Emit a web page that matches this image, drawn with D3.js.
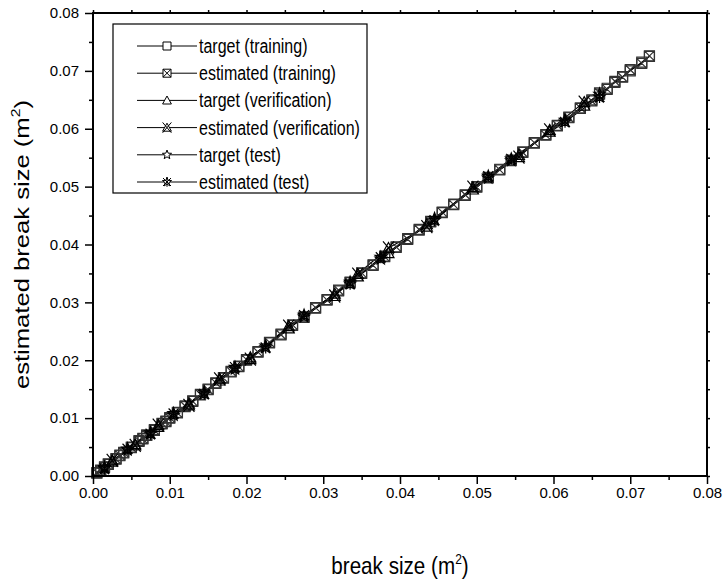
<!DOCTYPE html>
<html lang="en">
<head>
<meta charset="utf-8">
<script src="https://d3js.org/d3.v7.min.js"></script>
<style>
  body { margin: 0; background: #fff; }
  text { font-family: "Liberation Sans", Arial, sans-serif; fill: #000; }
</style>
</head>
<body>
<script>
// break sizes (m^2)
var trainTarget = [0.0005,0.001,0.0015,0.002,0.003,0.0035,0.004,0.005,0.006,0.0065,0.007,0.008,0.009,0.0095,0.010,0.011,0.012,0.013,0.014,0.015,0.016,0.017,0.018,0.019,0.020,0.0215,0.023,0.0245,0.026,0.0275,0.029,0.0305,0.032,0.0335,0.035,0.0365,0.038,0.0395,0.041,0.0425,0.044,0.0455,0.047,0.0485,0.050,0.0515,0.053,0.0545,0.056,0.0575,0.059,0.0605,0.062,0.0635,0.065,0.066,0.067,0.068,0.069,0.070,0.0715,0.0725];
var trainEstimated = [0.0006,0.0009,0.0016,0.0021,0.0029,0.0036,0.0041,0.0049,0.0061,0.0064,0.0071,0.0079,0.0091,0.0094,0.0101,0.0109,0.0121,0.0129,0.0141,0.0149,0.0161,0.0169,0.0181,0.0189,0.0201,0.0214,0.0231,0.0244,0.0261,0.0274,0.0291,0.0304,0.0321,0.0334,0.0351,0.0364,0.0379,0.0396,0.0409,0.0426,0.0439,0.0456,0.0469,0.0486,0.0499,0.0516,0.0529,0.0546,0.0559,0.0576,0.0589,0.0606,0.0619,0.0636,0.0648,0.0662,0.0668,0.0682,0.0689,0.0702,0.0713,0.0726];
var verTarget = [0.0025,0.0055,0.0085,0.0125,0.0165,0.0205,0.0255,0.0315,0.0345,0.0385,0.0435,0.0495,0.0555,0.0595,0.064];
var verEstimated = [0.0027,0.0053,0.0088,0.0122,0.0168,0.0202,0.0259,0.0311,0.0349,0.0394,0.0431,0.0499,0.0551,0.0598,0.0646];
var testTarget = [0.0015,0.0045,0.0075,0.0105,0.0145,0.0185,0.0225,0.0275,0.0335,0.0375,0.0445,0.0515,0.0545,0.0615,0.066];
var testEstimated = [0.0013,0.0047,0.0073,0.0108,0.0142,0.0188,0.0222,0.0278,0.0332,0.0378,0.0442,0.0518,0.0548,0.0612,0.0655];

var majorTicks = [0, 0.01, 0.02, 0.03, 0.04, 0.05, 0.06, 0.07, 0.08];
var minorTicks = [0.005, 0.015, 0.025, 0.035, 0.045, 0.055, 0.065, 0.075];

var seriesNames = ["target (training)", "estimated (training)", "target (verification)",
                   "estimated (verification)", "target (test)", "estimated (test)"];
var seriesSymbols = ["square", "squareX", "triangle", "triangleX", "star", "starX"];

var series = [
  {x: trainTarget, y: trainTarget},
  {x: trainTarget, y: trainEstimated},
  {x: verTarget, y: verTarget},
  {x: verTarget, y: verEstimated},
  {x: testTarget, y: testTarget},
  {x: testTarget, y: testEstimated}
];

var W = 725, H = 585;
var margin = {top: 13, right: 18, bottom: 109, left: 93};
var width = W - margin.left - margin.right,
    height = H - margin.top - margin.bottom;

var svg = d3.select("body").append("svg")
  .attr("width", W)
  .attr("height", H);

var x = d3.scaleLinear().domain([0, 0.08]).range([0, width]);
var y = d3.scaleLinear().domain([0, 0.08]).range([height, 0]);

var g = svg.append("g")
  .attr("transform", "translate(" + margin.left + "," + margin.top + ")");

function symbolPath(type, s) {
  // s = half size
  var p = d3.path();
  if (type === "square" || type === "squareX") {
    p.rect(-s, -s, 2 * s, 2 * s);
    if (type === "squareX") {
      p.moveTo(-s, -s); p.lineTo(s, s);
      p.moveTo(s, -s); p.lineTo(-s, s);
    }
  } else if (type === "triangle" || type === "triangleX") {
    p.moveTo(0, -s * 1.1); p.lineTo(s * 1.1, s * 0.9); p.lineTo(-s * 1.1, s * 0.9); p.closePath();
    if (type === "triangleX") {
      p.moveTo(-s * 1.1, -s * 1.3); p.lineTo(s * 1.1, s * 1.3);
      p.moveTo(s * 1.1, -s * 1.3); p.lineTo(-s * 1.1, s * 1.3);
    }
  } else {
    var R = s * 1.2, r = R * 0.42;
    for (var i = 0; i < 10; i++) {
      var a = -Math.PI / 2 + i * Math.PI / 5;
      var rr = i % 2 === 0 ? R : r;
      if (i === 0) p.moveTo(rr * Math.cos(a), rr * Math.sin(a));
      else p.lineTo(rr * Math.cos(a), rr * Math.sin(a));
    }
    p.closePath();
    if (type === "starX") {
      p.moveTo(-s, -s); p.lineTo(s, s);
      p.moveTo(s, -s); p.lineTo(-s, s);
      p.moveTo(0, -R); p.lineTo(0, R);
    }
  }
  return p.toString();
}

// lines
var line = d3.line()
  .x(function(d) { return x(d[0]); })
  .y(function(d) { return y(d[1]); });

series.forEach(function(sr, k) {
  var pts = sr.x.map(function(v, i) { return [v, sr.y[i]]; });
  g.append("path")
    .attr("d", line(pts))
    .attr("fill", "none")
    .attr("stroke", "#000")
    .attr("stroke-width", 1.2);
});

// markers
series.forEach(function(sr, k) {
  var pts = sr.x.map(function(v, i) { return [v, sr.y[i]]; });
  g.selectAll(".m" + k)
    .data(pts)
    .enter().append("path")
      .attr("class", "m" + k)
      .attr("transform", function(d) { return "translate(" + x(d[0]) + "," + y(d[1]) + ")"; })
      .attr("d", symbolPath(seriesSymbols[k], 5))
      .attr("fill", "none")
      .attr("stroke", k < 2 ? "#333" : "#000")
      .attr("stroke-width", 1.2);
});

// axes
function styleAxis(sel) {
  sel.select(".domain").remove();
  sel.selectAll(".tick line").attr("stroke", "#000").attr("stroke-width", 1.5);
  sel.selectAll(".tick text").style("font-size", "15px");
}

var fmt = d3.format(".2f");

g.append("g").attr("transform", "translate(0," + height + ")")
  .call(d3.axisBottom(x).tickValues(majorTicks).tickFormat(fmt).tickSize(8).tickPadding(3))
  .call(styleAxis);
g.append("g").attr("transform", "translate(0," + height + ")")
  .call(d3.axisBottom(x).tickValues(minorTicks).tickFormat("").tickSize(4))
  .call(styleAxis);
g.append("g")
  .call(d3.axisLeft(y).tickValues(majorTicks).tickFormat(fmt).tickSize(8).tickPadding(6))
  .call(styleAxis);
g.append("g")
  .call(d3.axisLeft(y).tickValues(minorTicks).tickFormat("").tickSize(4))
  .call(styleAxis);
g.append("g")
  .call(d3.axisTop(x).tickValues(majorTicks.concat(minorTicks)).tickFormat("").tickSize(3))
  .call(styleAxis);
g.append("g").attr("transform", "translate(" + width + ",0)")
  .call(d3.axisRight(y).tickValues(majorTicks.concat(minorTicks)).tickFormat("").tickSize(3))
  .call(styleAxis);

g.append("rect")
  .attr("width", width)
  .attr("height", height)
  .attr("fill", "none")
  .attr("stroke", "#000")
  .attr("stroke-width", 2);

// axis titles (text in the picture is stretched vertically)
var xt = svg.append("g")
  .attr("transform", "translate(" + (margin.left + width / 2) + ",574) scale(0.86,1)")
  .append("text")
  .attr("text-anchor", "middle")
  .style("font-size", "24px");
xt.append("tspan").text("break size (m");
xt.append("tspan").attr("dy", -10).style("font-size", "14px").text("2");
xt.append("tspan").attr("dy", 10).text(")");

var yt = svg.append("g")
  .attr("transform", "translate(29," + (margin.top + height / 2) + ") rotate(-90) scale(1.22,1)")
  .append("text")
  .attr("text-anchor", "middle")
  .style("font-size", "21px");
yt.append("tspan").text("estimated break size (m");
yt.append("tspan").attr("dy", -9).style("font-size", "13px").text("2");
yt.append("tspan").attr("dy", 9).text(")");

// legend
var leg = svg.append("g").attr("transform", "translate(113,24)");
leg.append("rect")
  .attr("width", 254)
  .attr("height", 169)
  .attr("fill", "#fff")
  .attr("stroke", "#000")
  .attr("stroke-width", 1.2);

seriesNames.forEach(function(name, k) {
  var ry = 22 + k * 27.2;
  leg.append("line")
    .attr("x1", 24).attr("x2", 84)
    .attr("y1", ry).attr("y2", ry)
    .attr("stroke", "#000").attr("stroke-width", 1);
  leg.append("path")
    .attr("transform", "translate(54," + ry + ")")
    .attr("d", symbolPath(seriesSymbols[k], 4))
    .attr("fill", "#fff")
    .attr("stroke", "#000")
    .attr("stroke-width", 1);
  leg.append("g")
    .attr("transform", "translate(86," + ry + ") scale(0.8,1)")
    .append("text")
    .attr("dy", "0.35em")
    .style("font-size", "20px")
    .text(name);
});
</script>
</body>
</html>
